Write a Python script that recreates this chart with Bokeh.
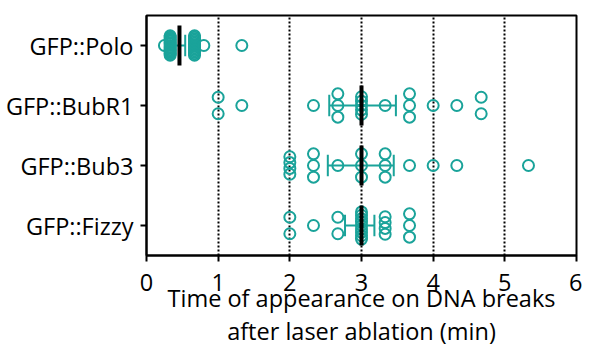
from collections import Counter
from bokeh.plotting import figure
from bokeh.models import FactorRange, ColumnDataSource, FixedTicker, Range1d
from bokeh.embed import file_html
from bokeh.resources import INLINE

# ---- data (minutes) ----
categories = ["GFP::Polo", "GFP::BubR1", "GFP::Bub3", "GFP::Fizzy"]
polo = [0.25] + [0.33] * 15 + [0.67] * 14 + [0.8, 1.33]
bubr1 = [1.0, 1.0, 1.33, 2.33, 2.67, 2.67, 2.67, 3.0, 3.0, 3.0, 3.0, 3.0,
         3.33, 3.67, 3.67, 3.67, 4.0, 4.33, 4.67, 4.67]
bub3 = [2.0, 2.0, 2.0, 2.0, 2.33, 2.33, 2.33, 2.67, 3.0, 3.0, 3.0,
        3.33, 3.33, 3.33, 3.67, 4.0, 4.33, 5.33]
fizzy = [2.0, 2.0, 2.33, 2.67, 2.67] + [3.0] * 9 + [3.33] * 4 + [3.67] * 3
medians = [0.46, 3.0, 3.0, 3.0]
err_lo = [0.40, 2.55, 2.53, 2.77]
err_hi = [0.54, 3.48, 3.45, 3.18]
x_ticks = [0, 1, 2, 3, 4, 5, 6]
x_title = "Time of appearance on DNA breaks\nafter laser ablation (min)"

series = [polo, bubr1, bub3, fizzy]

TEAL = "#1aa39a"
FONT = "Open Sans"
ROW_PX = 61.75  # pixels per category row


def spread_px(n):
    if n == 1:
        return 0.0
    if n == 2:
        return 17.0
    if n == 3:
        return 24.0
    if n <= 5:
        return 18.0
    if n <= 10:
        return 28.0
    return 20.0


xs, ys = [], []
for cat, vals in zip(categories, series):
    counts = Counter(vals)
    seen = Counter()
    for v in vals:
        n = counts[v]
        i = seen[v]
        seen[v] += 1
        s = spread_px(n)
        off = 0.0 if n == 1 else (-s / 2 + s * i / (n - 1))
        xs.append(v)
        ys.append((cat, off / ROW_PX))

pts = ColumnDataSource(dict(x=xs, y=ys))

p = figure(
    y_range=FactorRange(factors=list(reversed(categories))),
    x_range=Range1d(0, 6),
    width=582, height=350,
    min_border_left=146, min_border_top=15, min_border_right=6, min_border_bottom=88,
    output_backend="svg", toolbar_location=None,
)

p.scatter("x", "y", source=pts, size=11, fill_color=None, line_color=TEAL, line_width=2)

# error bars (horizontal line + caps)
cap = 11 / ROW_PX
p.segment(x0=err_lo, x1=err_hi, y0=categories, y1=categories, line_color=TEAL, line_width=2)
p.segment(x0=err_lo, x1=err_lo, y0=[(c, -cap) for c in categories], y1=[(c, cap) for c in categories],
          line_color=TEAL, line_width=2)
p.segment(x0=err_hi, x1=err_hi, y0=[(c, -cap) for c in categories], y1=[(c, cap) for c in categories],
          line_color=TEAL, line_width=2)

# median bars
mh = 20.5 / ROW_PX
p.segment(x0=medians, x1=medians, y0=[(c, -mh) for c in categories], y1=[(c, mh) for c in categories],
          line_color="black", line_width=4)

# axes styling
p.xaxis.ticker = FixedTicker(ticks=x_ticks)
p.xaxis.minor_tick_line_color = None
p.xaxis.axis_label = x_title
for ax in (p.xaxis[0], p.yaxis[0]):
    ax.axis_line_width = 2
    ax.axis_line_color = "black"
    ax.major_tick_line_width = 2
    ax.major_tick_line_color = "black"
    ax.major_tick_out = 6
    ax.major_tick_in = 0
    ax.major_label_text_font = FONT
    ax.major_label_text_font_size = "23.5px"
    ax.major_label_text_color = "black"
    ax.axis_label_text_font = FONT
    ax.axis_label_text_font_size = "23.5px"
    ax.axis_label_text_font_style = "normal"
    ax.axis_label_text_color = "black"
    ax.axis_label_text_line_height = 1.06
p.xaxis.major_label_standoff = 12
p.xaxis.axis_label_standoff = -12
p.yaxis.major_label_standoff = 7

p.ygrid.grid_line_color = None
p.xgrid.ticker = FixedTicker(ticks=[1, 2, 3, 4, 5])
p.xgrid.grid_line_color = "black"
p.xgrid.grid_line_dash = "2 2"
p.xgrid.grid_line_width = 2

p.outline_line_color = "black"
p.outline_line_width = 2
p.background_fill_color = "white"
p.border_fill_color = "white"

open("out.html", "w").write(file_html(p, INLINE))
